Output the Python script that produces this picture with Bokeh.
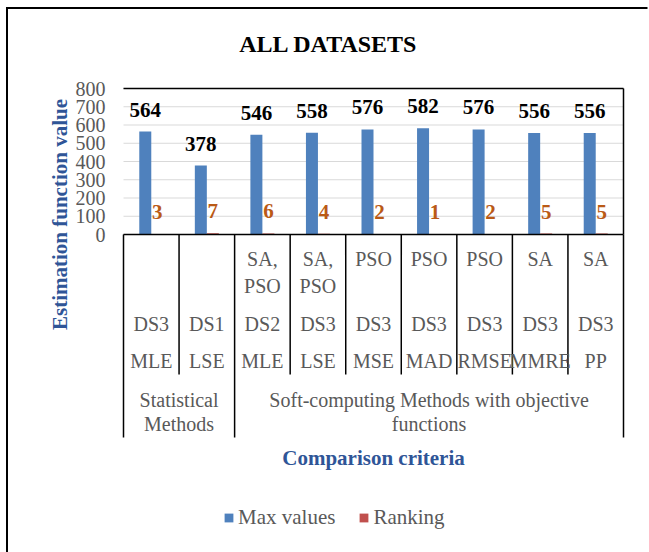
import numpy as np
from bokeh.plotting import figure
from bokeh.models import (Range1d, FixedTicker, Legend, LegendItem, ColumnDataSource)
from bokeh.core.properties import value
from bokeh.embed import file_html
from bokeh.resources import INLINE

# ---- data -------------------------------------------------------------
criteria = ["MLE", "LSE", "MLE", "LSE", "MSE", "MAD", "RMSE", "MMRE", "PP"]
datasets = ["DS3", "DS1", "DS2", "DS3", "DS3", "DS3", "DS3", "DS3", "DS3"]
methods = ["", "", "SA,\nPSO", "SA,\nPSO", "PSO", "PSO", "PSO", "SA", "SA"]
groups = ["Statistical\nMethods", "Soft-computing Methods with objective\nfunctions"]
group_sizes = [2, 7]
max_values = [564, 378, 546, 558, 576, 582, 576, 556, 556]
ranking = [3, 7, 6, 4, 2, 1, 2, 5, 5]
y_ticks = [0, 100, 200, 300, 400, 500, 600, 700, 800]

# ---- layout (pixels) --------------------------------------------------
W, H = 649, 552
FL, FR = 123, 623          # plot-area left / right
PT, PB = 88, 234           # plot-area top (y = 800) / bottom (y = 0)
n = len(criteria)
YMAX = y_ticks[-1]
ux = (FR - FL) / n
uy = (PB - PT) / YMAX


def dx(pix):
    return (pix - FL) / ux


def dy(pix):
    return (PB - pix) / uy


SERIF = "Liberation Serif"
GREY = "#595959"
BLUE_T = "#2F5597"

# the frame fills the whole canvas; the value axis is pinned at x = 0
p = figure(width=W, height=H, x_range=Range1d(dx(0), dx(W)),
           y_range=Range1d(dy(H), dy(0)), output_backend="svg",
           toolbar_location=None, x_axis_type=None,
           min_border_left=0, min_border_right=0, min_border_top=0,
           min_border_bottom=0, outline_line_color=None,
           background_fill_color="white", border_fill_color="white")
p.ygrid.visible = False
p.xgrid.visible = False

yax = p.yaxis[0]
yax.fixed_location = 0
yax.ticker = FixedTicker(ticks=y_ticks)
yax.axis_line_color = None
yax.major_tick_line_color = None
yax.minor_tick_line_color = None
yax.major_tick_out = 0
yax.major_tick_in = 0
yax.major_label_standoff = 18
yax.major_label_text_font = SERIF
yax.major_label_text_font_size = "20px"
yax.major_label_text_color = GREY

# horizontal gridlines
p.segment(x0=0, x1=n, y0=y_ticks, y1=y_ticks, line_color="#D9D9D9", line_width=1.2)

# bars, with data labels floated a fixed distance above each bar
bw = 12 / ux
lift = 22 / uy
xc = np.arange(n) + 0.5
src = ColumnDataSource(dict(xb=xc - bw / 2, xr=xc + bw / 2,
                            mx=max_values, rk=ranking,
                            mx_y=np.array(max_values) + lift,
                            rk_y=np.array(ranking) + lift,
                            mx_t=[str(v) for v in max_values],
                            rk_t=[str(v) for v in ranking]))
blue = p.vbar(x="xb", top="mx", bottom=0, width=bw, source=src,
              fill_color="#4F81BD", line_color=None)
red = p.vbar(x="xr", top="rk", bottom=0, width=bw, source=src,
             fill_color="#C0504D", line_color=None)

p.text(x="xb", y="mx_y", text="mx_t", source=src,
       text_font=value(SERIF), text_font_style="bold", text_font_size="21px",
       text_align="center", text_baseline="middle", text_color="black")
p.text(x="xr", y="rk_y", text="rk_t", source=src,
       text_font=value(SERIF), text_font_style="bold", text_font_size="21px",
       text_align="center", text_baseline="middle", text_color="#BA5A16")

# plot-area frame and category table lines
bounds = np.concatenate([[0], np.cumsum(group_sizes)])
inner = [i for i in range(1, n) if i not in bounds]
ln = dict(line_color="black", line_width=1.5)
p.segment(x0=[0, 0, n], x1=[n, n, n], y0=[YMAX, 0, 0], y1=[YMAX, 0, YMAX], **ln)
p.segment(x0=bounds, x1=bounds, y0=0, y1=dy(437), **ln)
p.segment(x0=inner, x1=inner, y0=0, y1=dy(374), **ln)

# category labels (three rows plus the group row)
cat = dict(text_font=value(SERIF), text_font_size="20px", text_color=GREY,
           text_align="center")
p.text(x=xc, y=dy(247), text=methods, text_baseline="top", text_line_height=1.25, **cat)
p.text(x=xc, y=dy(323), text=datasets, text_baseline="middle", **cat)
p.text(x=xc, y=dy(360), text=criteria, text_baseline="middle", **cat)
gx = (bounds[:-1] + bounds[1:]) / 2
p.text(x=gx, y=dy(388), text=groups, text_baseline="top", text_line_height=1.12, **cat)

# titles
p.text(x=[dx(328)], y=[dy(43)], text=["ALL DATASETS"], text_font=value(SERIF),
       text_font_style="bold", text_font_size="24px", text_align="center",
       text_baseline="middle", text_color="black")
p.text(x=[dx(373)], y=[dy(457)], text=["Comparison criteria"], text_font=value(SERIF),
       text_font_style="bold", text_font_size="21px", text_align="center",
       text_baseline="middle", text_color=BLUE_T)
p.text(x=[dx(59)], y=[dy(214)], text=["Estimation function value"], angle=np.pi / 2,
       text_font=value(SERIF), text_font_style="bold", text_font_size="21px",
       text_align="center", text_baseline="middle", text_color=BLUE_T)

# outer chart border (top and left edges) as thin filled strips
p.quad(left=[dx(5.5), dx(5.5)], right=[dx(W - 2), dx(7.5)],
       top=[dy(6.5), dy(6.5)], bottom=[dy(8.5), dy(H)],
       fill_color="black", line_color=None)

legend = Legend(items=[LegendItem(label="Max values", renderers=[blue]),
                       LegendItem(label="Ranking", renderers=[red])],
                orientation="horizontal", location=(223, 22), glyph_width=11,
                glyph_height=11, label_standoff=4, spacing=23, padding=0, margin=0,
                border_line_color=None, background_fill_alpha=0,
                label_text_font=SERIF, label_text_font_size="21px",
                label_text_color=GREY, label_height=21)
p.add_layout(legend)

open("out.html", "w").write(file_html(p, INLINE))
